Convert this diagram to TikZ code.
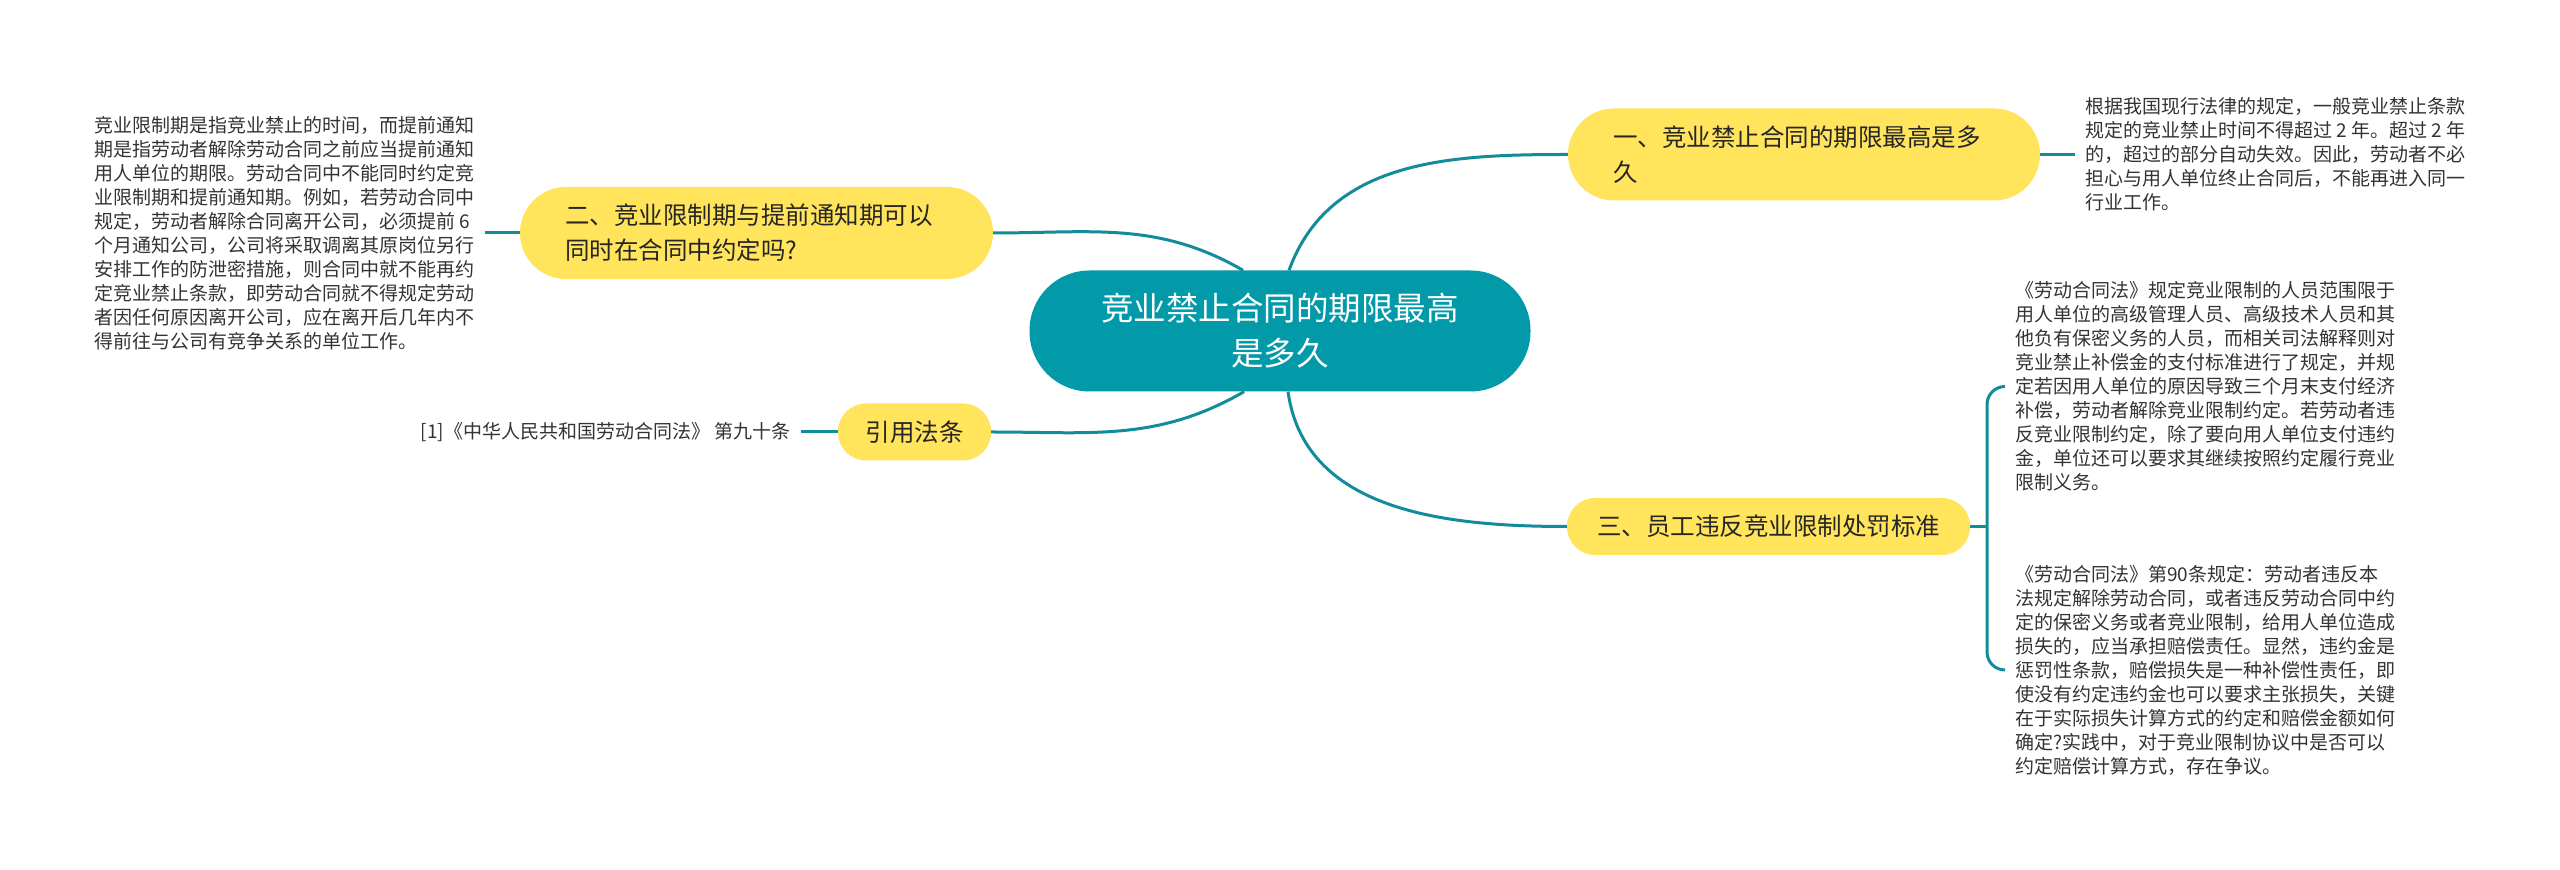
\documentclass[tikz,border=0pt]{standalone}
\usepackage{fontspec}
\setmainfont{Noto Sans CJK SC}
\usetikzlibrary{positioning}
\definecolor{rootteal}{RGB}{2,153,168}
\definecolor{linkteal}{RGB}{18,140,154}
\definecolor{topicyellow}{RGB}{255,228,92}
\definecolor{leafgray}{RGB}{51,51,51}
\tikzset{
  root/.style={fill=rootteal, text=white, align=center,
    minimum width=501pt, minimum height=121pt, rounded corners=60pt,
    font=\fontsize{32.5pt}{45pt}\selectfont},
  topic/.style={fill=topicyellow, text=black!85, inner ysep=0pt,
    font=\fontsize{24.5pt}{35pt}\selectfont},
  twoline/.style={topic, align=left, text width=#1, inner xsep=45pt,
    minimum height=92pt, rounded corners=46pt},
  oneline/.style={topic, align=center, minimum width=#1,
    minimum height=57pt, rounded corners=28pt},
  leaf/.style={text=leafgray, align=left, inner xsep=10pt,
    font=\fontsize{19pt}{24pt}\selectfont},
  link/.style={draw=linkteal, line width=3pt}
}
\begin{document}
\begin{tikzpicture}[x=1pt,y=1pt]
  \useasboundingbox (0,0) rectangle (2560,870);
  % centre
  \node[root] (c) at (1280,539) {竞业禁止合同的期限最高\\是多久};
  % branches
  \node[twoline=382pt] (b1) at (1804,715.5) {一、竞业禁止合同的期限最高是多\\久};
  \node[twoline=383pt] (b2) at (756.5,637) {二、竞业限制期与提前通知期可以\\同时在合同中约定吗?};
  \node[oneline=403pt] (b3) at (1768.5,343.5) {三、员工违反竞业限制处罚标准};
  \node[oneline=153pt] (b4) at (914.5,438) {引用法条};
  % leaves
  \node[leaf, right=35pt of b1] (l1) {根据我国现行法律的规定，一般竞业禁止条款\\
    规定的竞业禁止时间不得超过 2 年。超过 2 年\\
    的，超过的部分自动失效。因此，劳动者不必\\
    担心与用人单位终止合同后，不能再进入同一\\
    行业工作。};
  \node[leaf, left=35pt of b2] (l2) {竞业限制期是指竞业禁止的时间，而提前通知\\
    期是指劳动者解除劳动合同之前应当提前通知\\
    用人单位的期限。劳动合同中不能同时约定竞\\
    业限制期和提前通知期。例如，若劳动合同中\\
    规定，劳动者解除合同离开公司，必须提前 6\\
    个月通知公司，公司将采取调离其原岗位另行\\
    安排工作的防泄密措施，则合同中就不能再约\\
    定竞业禁止条款，即劳动合同就不得规定劳动\\
    者因任何原因离开公司，应在离开后几年内不\\
    得前往与公司有竞争关系的单位工作。};
  \node[leaf, anchor=west] (l3a) at (2005,483.5) {《劳动合同法》规定竞业限制的人员范围限于\\
    用人单位的高级管理人员、高级技术人员和其\\
    他负有保密义务的人员，而相关司法解释则对\\
    竞业禁止补偿金的支付标准进行了规定，并规\\
    定若因用人单位的原因导致三个月末支付经济\\
    补偿，劳动者解除竞业限制约定。若劳动者违\\
    反竞业限制约定，除了要向用人单位支付违约\\
    金，单位还可以要求其继续按照约定履行竞业\\
    限制义务。};
  \node[leaf, anchor=west] (l3b) at (2005,200) {《劳动合同法》第90条规定：劳动者违反本\\
    法规定解除劳动合同，或者违反劳动合同中约\\
    定的保密义务或者竞业限制，给用人单位造成\\
    损失的，应当承担赔偿责任。显然，违约金是\\
    惩罚性条款，赔偿损失是一种补偿性责任，即\\
    使没有约定违约金也可以要求主张损失，关键\\
    在于实际损失计算方式的约定和赔偿金额如何\\
    确定?实践中，对于竞业限制协议中是否可以\\
    约定赔偿计算方式，存在争议。};
  \node[leaf, left=37pt of b4] (l4) {[1]《中华人民共和国劳动合同法》 第九十条};
  \coordinate (j) at (1987,343.5);
  % connectors
  \begin{scope}[link]
    \draw ([xshift=9pt]c.north) to[out=70,in=180] (b1.west);
    \draw ([xshift=-37pt]c.north) to[out=150,in=0] (b2.east);
    \draw ([xshift=-36pt]c.south) to[out=210,in=0] (b4.east);
    \draw ([xshift=8pt]c.south) to[out=-82,in=180] (b3.west);
    \draw (b1) -- (l1);
    \draw (b2) -- (l2);
    \draw (b4) -- (l4);
    \draw (b3) -- (j);
    \draw[rounded corners=18pt] (j) |- (l3a.west);
    \draw[rounded corners=18pt] (j) |- (l3b.west);
  \end{scope}
\end{tikzpicture}
\end{document}
